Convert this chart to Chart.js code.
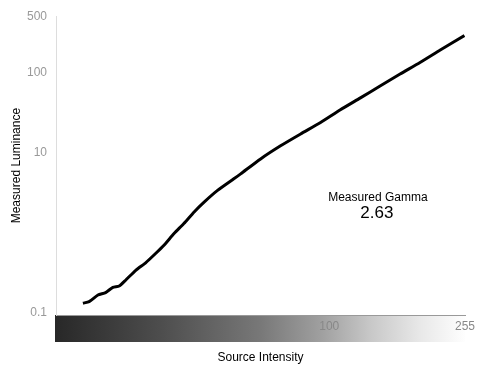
<!DOCTYPE html>
<html lang="en">
<head>
<meta charset="UTF-8">
<meta name="viewport" content="width=device-width, initial-scale=1.0">
<title>Measured Gamma</title>
<style>
    html, body { margin: 0; padding: 0; background: #fff; }
    .chart-container {
        position: relative;
        width: 484px;
        height: 375px;
    }
</style>
</head>
<body>
<div class="chart-container">
    <canvas id="myChart"></canvas>
</div>

<script src="https://cdn.jsdelivr.net/npm/chart.js@4.4.0/dist/chart.umd.min.js"></script>
<script>
    // Data
    const sourceIntensity = [18.3, 19.1, 20.3, 21.4, 22.5, 23.5, 24.6, 26.4, 28.2, 30.2, 32.0, 34.3, 36.7, 39.4,
                             42.2, 46.3, 51.8, 54.3, 62.3, 71.5, 82.1, 94.2, 108, 124, 142, 163, 187, 215, 254];
    const luminance = [0.132, 0.138, 0.167, 0.179, 0.208, 0.216, 0.257, 0.342, 0.421, 0.550, 0.698, 0.975, 1.30, 1.81,
                       2.40, 3.36, 4.69, 5.41, 8.31, 12.1, 17.0, 23.6, 34.0, 47.9, 67.4, 95.0, 132, 189, 287];
    const xTicks = [100, 255];
    const yTicks = [0.1, 10, 100, 500];
    const gammaLabel = 'Measured Gamma';
    const gammaValue = '2.63';

    const FONT = "'Liberation Sans', Arial, sans-serif";

    // grey ramp under the x axis + the gamma readout
    const decorations = {
        id: 'decorations',
        beforeDraw(chart) {
            const {ctx, chartArea} = chart;
            const x0 = chartArea.left, x1 = chartArea.right;
            const y0 = chartArea.bottom, h = 27;
            const g = ctx.createLinearGradient(x0, 0, x1, 0);
            g.addColorStop(0, '#282828');
            g.addColorStop(0.26, '#4e4e4e');
            g.addColorStop(0.5, '#787878');
            g.addColorStop(0.65, '#a0a0a0');
            g.addColorStop(0.77, '#c8c8c8');
            g.addColorStop(0.89, '#e8e8e8');
            g.addColorStop(1, '#fefefe');
            ctx.save();
            ctx.fillStyle = g;
            ctx.fillRect(x0 - 1, y0, x1 - x0 + 1, h);
            ctx.restore();
        },
        afterDatasetsDraw(chart) {
            const {ctx, chartArea} = chart;
            const cx = chartArea.left + 0.787 * chartArea.width;
            ctx.save();
            ctx.fillStyle = '#000';
            ctx.textAlign = 'center';
            ctx.textBaseline = 'middle';
            ctx.font = '12px ' + FONT;
            ctx.fillText(gammaLabel, cx, chartArea.top + 0.607 * chartArea.height);
            ctx.font = '17px ' + FONT;
            ctx.fillText(gammaValue, cx - 1, chartArea.top + 0.66 * chartArea.height);
            ctx.restore();
        }
    };

    var ctx = document.getElementById('myChart').getContext('2d');
    var myChart = new Chart(ctx, {
        type: 'line',
        data: {
            datasets: [{
                data: sourceIntensity.map((x, i) => ({x: x, y: luminance[i]})),
                borderColor: '#000',
                borderWidth: 3,
                pointRadius: 0,
                tension: 0.2,
                fill: false
            }]
        },
        options: {
            responsive: true,
            maintainAspectRatio: false,
            animation: false,
            layout: {
                padding: {top: 15, right: 19, left: 0, bottom: 0}
            },
            scales: {
                x: {
                    type: 'logarithmic',
                    min: 15.2,
                    max: 255,
                    afterBuildTicks: s => { s.ticks = xTicks.map(v => ({value: v})); },
                    afterFit: s => { s.height = 60; },
                    grid: {display: false, drawTicks: false},
                    border: {display: true, color: '#999', width: 1},
                    ticks: {
                        callback: v => String(v),
                        color: '#888',
                        padding: 4,
                        maxRotation: 0,
                        autoSkip: false,
                        font: {family: FONT, size: 12}
                    },
                    title: {
                        display: true,
                        text: 'Source Intensity',
                        color: '#000',
                        padding: {top: 4, bottom: 10},
                        font: {family: FONT, size: 12}
                    }
                },
                y: {
                    type: 'logarithmic',
                    min: 0.094,
                    max: 500,
                    afterBuildTicks: s => { s.ticks = yTicks.map(v => ({value: v})); },
                    afterFit: s => { s.width = 56; },
                    grid: {display: false, drawTicks: false},
                    border: {display: true, color: '#ddd', width: 1},
                    ticks: {
                        callback: v => String(v),
                        color: '#999',
                        padding: 9,
                        autoSkip: false,
                        font: {family: FONT, size: 12}
                    },
                    title: {
                        display: true,
                        text: 'Measured Luminance',
                        color: '#000',
                        padding: {top: 9, bottom: 0},
                        font: {family: FONT, size: 12}
                    }
                }
            },
            plugins: {
                legend: {display: false},
                tooltip: {enabled: false}
            }
        },
        plugins: [decorations]
    });
</script>

</body>
</html>
